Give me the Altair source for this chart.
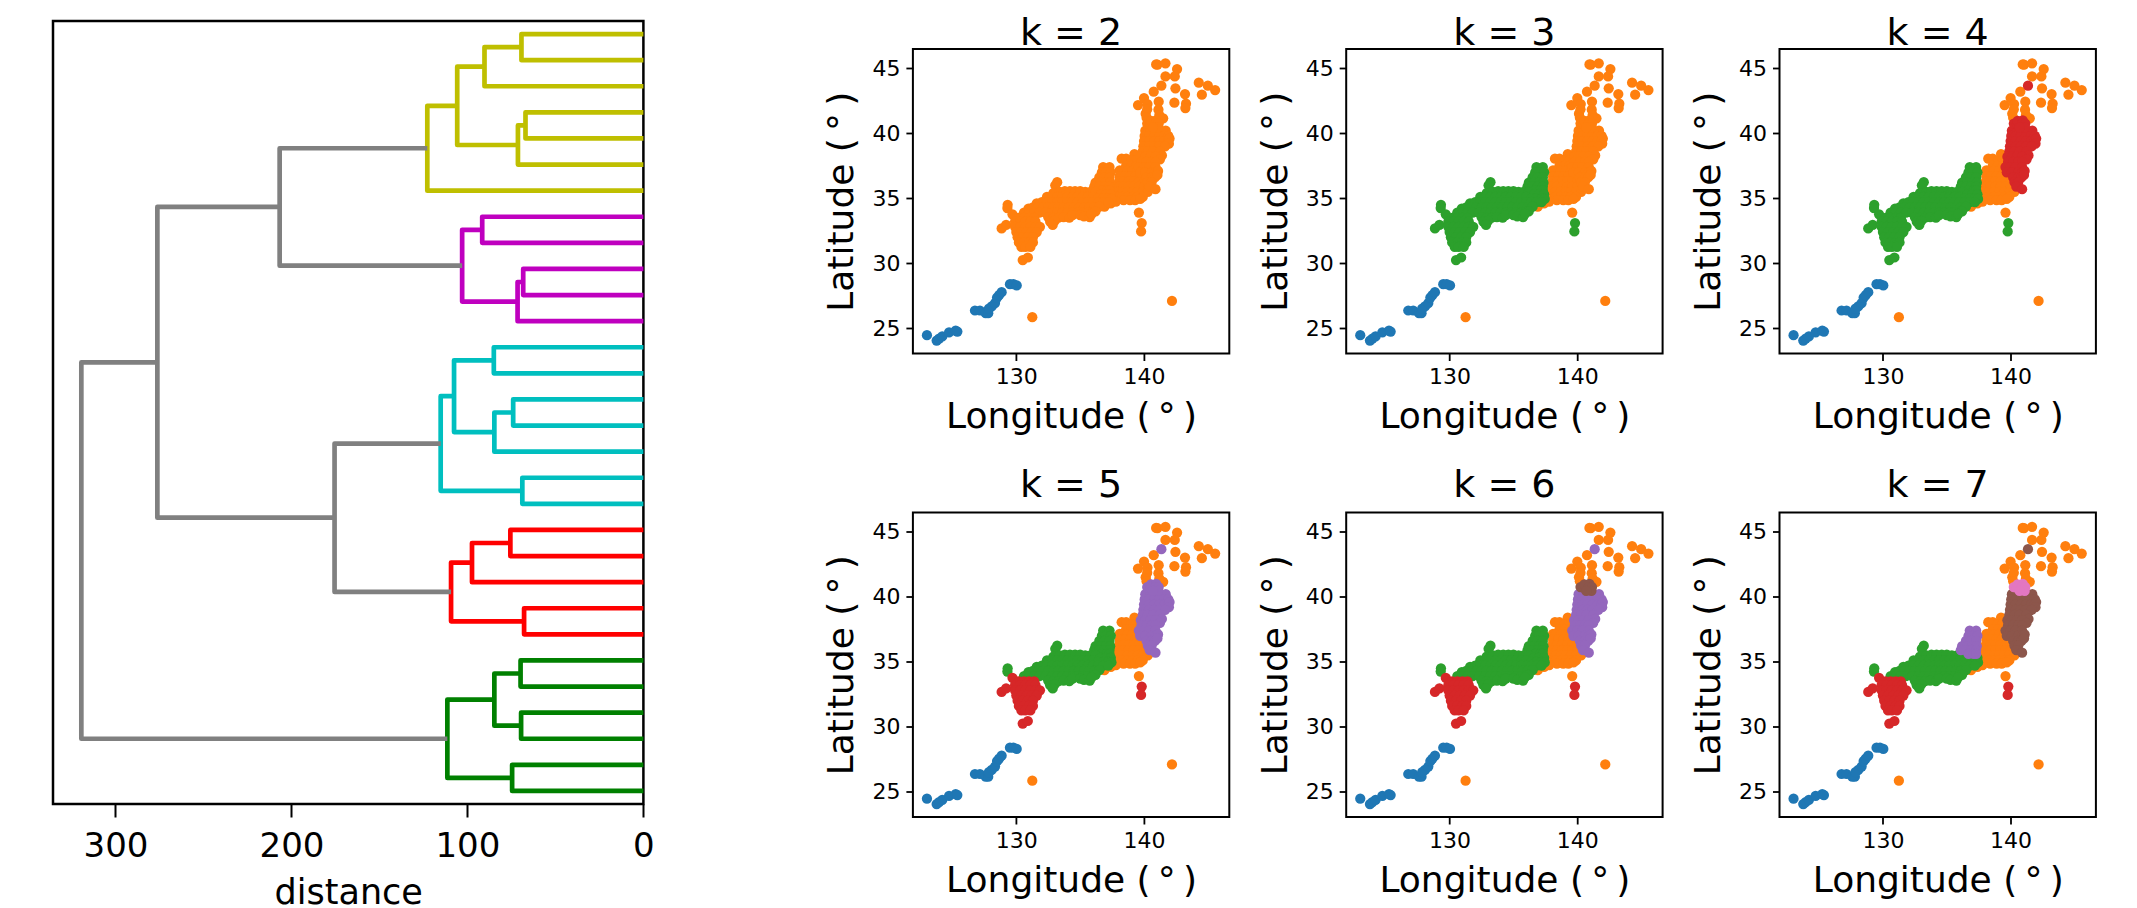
import altair as alt
import pandas as pd

FONT = "DejaVu Sans"
TAB = ["#1f77b4", "#ff7f0e", "#2ca02c", "#d62728", "#9467bd", "#8c564b", "#e377c2"]
K_VALUES = [2, 3, 4, 5, 6, 7]
TITLE_OFFSETS = [-4, -4, -4, 8, 8, 8]

# Dendrogram links: [child height, merge, merge, child height], leaf-row positions, colour
Y_C, M_C, C_C, R_C, G_C, K_C = "#bfbf00", "#bf00bf", "#00bfbf", "#ff0000", "#008000", "#808080"
LINK_D = [
    [0, 69.3, 69.3, 0], [69.3, 90.3, 90.3, 0], [0, 67, 67, 0], [67, 71.3, 71.3, 0],
    [90.3, 105.8, 105.8, 71.3], [105.8, 122.8, 122.8, 0],
    [0, 91.6, 91.6, 0], [0, 68.3, 68.3, 0], [68.3, 71.5, 71.5, 0], [91.6, 103, 103, 71.5],
    [0, 85, 85, 0], [0, 74, 74, 0], [74, 84.7, 84.7, 0], [85, 107.6, 107.6, 84.7],
    [0, 68.8, 68.8, 0], [107.6, 115.2, 115.2, 68.8],
    [0, 75.6, 75.6, 0], [75.6, 97.4, 97.4, 0], [0, 67.8, 67.8, 0], [97.4, 109.3, 109.3, 67.8],
    [0, 69.8, 69.8, 0], [0, 69.5, 69.5, 0], [69.8, 84.7, 84.7, 69.5], [0, 74.6, 74.6, 0],
    [84.7, 111.4, 111.4, 74.6],
    [122.8, 206.7, 206.7, 103], [115.2, 175.5, 175.5, 109.3],
    [206.7, 276.2, 276.2, 175.5], [276.2, 319.4, 319.4, 111.4],
]
LINK_Y = [
    [0.5, 0.5, 1.5, 1.5], [1.0, 1.0, 2.5, 2.5], [3.5, 3.5, 4.5, 4.5], [4.0, 4.0, 5.5, 5.5],
    [1.75, 1.75, 4.75, 4.75], [3.25, 3.25, 6.5, 6.5],
    [7.5, 7.5, 8.5, 8.5], [9.5, 9.5, 10.5, 10.5], [10.0, 10.0, 11.5, 11.5], [8.0, 8.0, 10.75, 10.75],
    [12.5, 12.5, 13.5, 13.5], [14.5, 14.5, 15.5, 15.5], [15.0, 15.0, 16.5, 16.5], [13.0, 13.0, 15.75, 15.75],
    [17.5, 17.5, 18.5, 18.5], [14.375, 14.375, 18.0, 18.0],
    [19.5, 19.5, 20.5, 20.5], [20.0, 20.0, 21.5, 21.5], [22.5, 22.5, 23.5, 23.5], [20.75, 20.75, 23.0, 23.0],
    [24.5, 24.5, 25.5, 25.5], [26.5, 26.5, 27.5, 27.5], [25.0, 25.0, 27.0, 27.0], [28.5, 28.5, 29.5, 29.5],
    [26.0, 26.0, 29.0, 29.0],
    [4.875, 4.875, 9.375, 9.375], [16.19, 16.19, 21.875, 21.875],
    [7.125, 7.125, 19.03, 19.03], [13.08, 13.08, 27.5, 27.5],
]
LINK_C = [Y_C] * 6 + [M_C] * 4 + [C_C] * 6 + [R_C] * 4 + [G_C] * 5 + [K_C] * 4

# Stations, (longitude, latitude), per region
OKINAWA = [(123.0, 24.46), (123.76, 24.05), (123.95, 24.2), (124.2, 24.36), (124.73, 24.67), (125.25, 24.82),
           (125.38, 24.74), (126.76, 26.36), (127.15, 26.36), (127.6, 26.15), (127.8, 26.15), (128.07, 26.67),
           (127.85, 26.5), (128.33, 26.93), (128.49, 27.36), (128.65, 27.55), (128.85, 27.77), (129.5, 28.39),
           (129.77, 28.39), (130.03, 28.29)]
OUTLYING = [(131.25, 25.85), (142.19, 27.1), (139.6, 33.9)]
HOKKAIDO = [(141.05, 45.29), (140.95, 45.3), (141.68, 45.39), (142.59, 44.95), (141.68, 44.38), (142.41, 44.38),
            (140.76, 43.2), (142.46, 43.46), (144.29, 43.9), (145.0, 43.67), (145.57, 43.33), (144.53, 42.97),
            (143.21, 43.02), (142.38, 42.36), (143.29, 42.28), (143.24, 41.94), (139.53, 42.17), (140.0, 42.71),
            (140.27, 42.25), (141.15, 42.43), (141.13, 41.82), (140.13, 41.51), (140.25, 41.85), (141.5, 41.15),
            (141.2, 41.4), (140.2, 41.2)]
SAPPORO = [(141.36, 43.67)]
AOMORI = [(140.25, 40.75), (140.5, 40.7), (140.55, 40.95), (140.95, 41.0), (140.9, 40.75), (141.15, 40.75),
          (141.1, 40.45), (140.7, 40.45)]
TOHOKU = [(140.1, 40.2), (140.5, 40.2), (140.9, 40.2), (141.3, 40.2), (141.7, 40.2),
          (140.05, 39.8), (140.4, 39.8), (140.8, 39.8), (141.2, 39.8), (141.6, 39.8), (141.9, 39.8),
          (140.0, 39.4), (140.4, 39.4), (140.8, 39.4), (141.2, 39.4), (141.6, 39.4), (141.9, 39.45),
          (142.0, 39.6), (141.95, 39.2),
          (139.95, 39.0), (140.4, 39.0), (140.8, 39.0), (141.2, 39.0), (141.65, 39.0),
          (139.9, 38.6), (140.3, 38.6), (140.7, 38.6), (141.25, 38.6), (141.4, 38.3),
          (139.75, 38.2), (140.1, 38.2), (140.5, 38.2), (140.9, 38.2), (141.25, 38.0),
          (139.8, 37.8), (140.2, 37.8), (140.6, 37.8), (140.9, 37.8),
          (139.6, 37.4), (140.0, 37.4), (140.4, 37.4), (140.9, 37.4),
          (139.7, 37.0), (140.1, 37.0), (140.6, 37.0), (140.9, 37.0), (141.1, 37.1),
          (140.2, 36.6), (140.6, 36.6), (140.85, 36.6), (141.05, 36.8), (140.3, 36.25), (140.6, 36.25),
          (140.45, 35.89), (140.9, 35.7)]
KANTO = [(138.25, 38.05), (138.6, 38.05), (139.25, 38.4), (139.0, 37.9), (139.35, 37.9),
         (138.6, 37.5), (139.0, 37.5), (139.4, 37.5), (138.1, 37.15), (138.3, 37.1), (138.7, 37.1), (139.1, 37.1),
         (139.5, 37.1), (138.1, 36.7), (138.5, 36.7), (138.9, 36.7), (139.3, 36.7), (139.7, 36.7),
         (138.05, 36.3), (138.4, 36.3), (138.8, 36.3), (139.2, 36.3), (139.6, 36.3), (140.0, 36.3),
         (138.0, 35.9), (138.4, 35.9), (138.8, 35.9), (139.2, 35.9), (139.6, 35.9), (140.0, 35.9), (140.4, 35.9),
         (137.9, 35.5), (138.3, 35.5), (138.7, 35.5), (139.1, 35.5), (139.5, 35.5), (139.9, 35.5), (140.3, 35.5),
         (137.9, 35.1), (138.3, 35.1), (138.7, 35.1), (139.1, 35.1), (139.5, 35.1), (139.9, 35.1),
         (138.4, 34.85), (138.9, 34.85), (139.3, 34.85), (139.7, 34.95),
         (136.9, 34.35), (137.4, 34.6), (137.8, 34.75)]
CHUBU = [(136.8, 37.4), (137.3, 37.4), (136.7, 37.0), (137.0, 37.0), (137.4, 37.0),
         (136.5, 36.6), (136.9, 36.6), (137.3, 36.6), (136.2, 36.2), (136.6, 36.2), (137.0, 36.2), (137.35, 36.2),
         (136.1, 35.9), (136.5, 35.9), (136.9, 35.9), (137.3, 35.9), (136.7, 35.6), (137.1, 35.6), (137.3, 35.6)]
WEST = [(133.2, 36.24), (133.05, 36.0), (129.32, 34.5), (129.3, 34.25),
        (132.9, 35.4), (133.4, 35.5), (133.8, 35.55), (134.2, 35.55), (134.6, 35.55), (135.0, 35.55), (135.4, 35.5),
        (135.8, 35.5), (136.2, 35.5), (136.6, 35.3), (137.0, 35.3), (137.4, 35.3),
        (132.4, 35.1), (132.8, 35.1), (133.2, 35.1), (133.6, 35.1), (134.0, 35.1), (134.4, 35.1), (134.8, 35.1),
        (135.2, 35.1), (135.6, 35.1), (136.0, 35.1), (136.4, 35.0), (136.8, 35.0), (137.2, 35.0), (137.45, 34.95),
        (131.6, 34.6), (132.0, 34.7), (132.4, 34.7), (132.8, 34.7), (133.2, 34.7), (133.6, 34.7), (134.0, 34.7),
        (134.4, 34.7), (134.8, 34.7), (135.2, 34.7), (135.6, 34.7), (136.0, 34.7), (136.4, 34.7), (136.8, 34.7),
        (137.2, 34.7), (130.95, 34.2), (131.3, 34.3), (131.7, 34.3), (132.1, 34.3), (132.5, 34.3), (132.9, 34.3),
        (133.3, 34.3), (133.7, 34.3), (134.1, 34.3), (134.5, 34.3), (134.9, 34.3), (135.3, 34.3), (135.7, 34.3),
        (136.1, 34.3), (136.5, 34.35), (130.6, 33.9), (131.0, 33.9), (131.4, 33.9), (131.8, 33.9), (132.3, 33.9),
        (132.8, 33.9), (133.2, 33.9), (133.6, 33.9), (134.0, 33.9), (134.4, 33.9), (134.8, 33.9), (135.2, 33.9),
        (135.6, 33.9), (136.0, 33.95), (136.2, 34.0), (132.5, 33.55), (132.9, 33.5), (133.3, 33.5), (133.7, 33.55),
        (134.15, 33.5), (134.4, 33.7), (135.0, 33.7), (135.3, 33.6), (135.75, 33.55), (135.9, 33.8),
        (132.65, 33.2), (133.0, 33.25), (132.85, 32.95)]
KYUSHU = [(129.7, 33.76), (128.85, 32.68), (129.2, 32.95), (130.5, 30.24), (130.9, 30.44),
          (130.2, 33.5), (130.6, 33.5), (131.0, 33.5), (131.4, 33.5),
          (129.9, 33.2), (130.3, 33.2), (130.7, 33.2), (131.1, 33.2), (131.5, 33.2),
          (129.9, 32.8), (130.3, 32.8), (130.7, 32.8), (131.1, 32.8), (131.5, 32.8), (131.85, 32.8),
          (130.0, 32.4), (130.4, 32.4), (130.8, 32.4), (131.2, 32.4), (131.6, 32.4),
          (130.1, 32.0), (130.5, 32.0), (130.9, 32.0), (131.3, 32.0),
          (130.2, 31.6), (130.6, 31.6), (131.0, 31.6), (131.3, 31.6),
          (130.4, 31.25), (130.7, 31.25), (131.1, 31.25),
          (139.82, 33.09), (139.77, 32.45)]

# Colour index of each region for k = 2 ... 7
REGIONS = [
    (OKINAWA, [0, 0, 0, 0, 0, 0]),
    (OUTLYING, [1, 1, 1, 1, 1, 1]),
    (HOKKAIDO, [1, 1, 1, 1, 1, 1]),
    (KANTO, [1, 1, 1, 1, 1, 1]),
    (SAPPORO, [1, 1, 3, 4, 4, 5]),
    (TOHOKU, [1, 1, 3, 4, 4, 5]),
    (AOMORI, [1, 1, 3, 4, 5, 6]),
    (CHUBU, [1, 2, 2, 2, 2, 4]),
    (WEST, [1, 2, 2, 2, 2, 2]),
    (KYUSHU, [1, 2, 2, 3, 3, 3]),
]

X_DOMAIN = [121.9, 146.68]
Y_DOMAIN = [23.05, 46.49]
X_TICKS = [130, 140]
Y_TICKS = [25, 30, 35, 40, 45]
D_TICKS = [0, 100, 200, 300]

rows = []
for i, (ds, ys, c) in enumerate(zip(LINK_D, LINK_Y, LINK_C)):
    for j in range(4):
        rows.append({"link": i, "step": j, "d": ds[j], "y": ys[j], "c": c})
dendro = (
    alt.Chart(pd.DataFrame(rows))
    .mark_line(strokeWidth=4.7, strokeJoin="round", strokeCap="butt")
    .encode(
        x=alt.X("d:Q", scale=alt.Scale(domain=[335.5, 0], nice=False, zero=False),
                axis=alt.Axis(values=D_TICKS, title="distance", grid=False, domain=False, labelFont=FONT,
                              titleFont=FONT, labelFontSize=34, titleFontSize=35, titleFontWeight="normal",
                              labelColor="black", titleColor="black", tickColor="black", tickSize=13,
                              tickWidth=2, labelPadding=12, titlePadding=12, format="d", labelFlush=False)),
        y=alt.Y("y:Q", scale=alt.Scale(domain=[30, 0], nice=False, zero=False), axis=None),
        detail="link:N",
        order="step:Q",
        color=alt.Color("c:N", scale=None, legend=None),
    )
    .properties(width=590.4, height=783, view=alt.ViewConfig(stroke="black", strokeWidth=2.5))
)


def panel(idx):
    pts = []
    for region, labels in REGIONS:
        for lon, lat in region:
            pts.append({"lon": lon, "lat": lat, "cl": labels[idx]})
    df = pd.DataFrame(pts).sort_values("cl", kind="stable")
    df["c"] = [TAB[c] for c in df["cl"]]
    axis_common = dict(grid=False, domain=False, labelFont=FONT, titleFont=FONT, labelFontSize=22,
                       titleFontSize=36, titleFontWeight="normal", labelColor="black", titleColor="black",
                       tickColor="black", tickSize=7, tickWidth=1.8, format="d", labelFlush=False)
    return (
        alt.Chart(df, title=alt.TitleParams(f"k = {K_VALUES[idx]}", font=FONT, fontSize=38, fontWeight="normal",
                                            color="black", anchor="middle", offset=TITLE_OFFSETS[idx]))
        .mark_circle(size=105, opacity=1)
        .encode(
            x=alt.X("lon:Q", scale=alt.Scale(domain=X_DOMAIN, nice=False, zero=False),
                    axis=alt.Axis(values=X_TICKS, title="Longitude (\u2009\u00b0\u2009)", labelPadding=6,
                                  titlePadding=12, **axis_common)),
            y=alt.Y("lat:Q", scale=alt.Scale(domain=Y_DOMAIN, nice=False, zero=False),
                    axis=alt.Axis(values=Y_TICKS, title="Latitude (\u2009\u00b0\u2009)", labelPadding=6,
                                  titlePadding=11, **axis_common)),
            color=alt.Color("c:N", scale=None, legend=None),
        )
        .properties(width=316.4, height=304.5, view=alt.ViewConfig(stroke="black", strokeWidth=2))
    )


spacer = (
    alt.Chart(pd.DataFrame({"a": [0]}))
    .mark_point(opacity=0)
    .encode(x=alt.value(0), y=alt.value(0))
    .properties(width=316, height=28, view=alt.ViewConfig(stroke=None))
)
grid = alt.concat(*[panel(i) for i in range(6)], columns=3,
                  spacing={"row": 158.5, "column": 116.3}, bounds="flush")
right = alt.vconcat(spacer, grid, spacing=0, bounds="flush")
chart = (
    alt.hconcat(dendro, right, spacing=268.9, bounds="flush")
    .properties(padding={"left": 43, "top": 6, "right": 0, "bottom": 0})
)
chart.save("out.html", embed_options={"renderer": "svg", "actions": False})
